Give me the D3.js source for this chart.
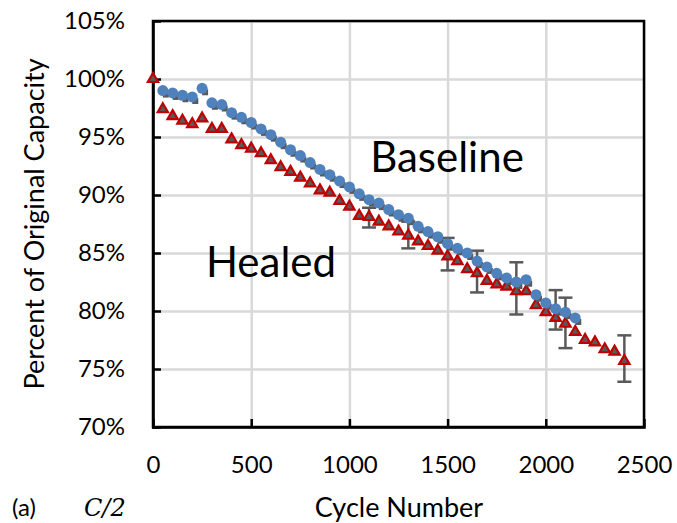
<!DOCTYPE html>
<html>
<head>
<meta charset="utf-8">
<script src="https://cdn.jsdelivr.net/npm/d3@7"></script>
<style>
  body { margin: 0; background: #fff; }
  svg { display: block; font-family: Lato, "Open Sans", sans-serif; }
</style>
</head>
<body>
<script>
// capacity fade, baseline vs healed cells

var baseCycles = [50, 100, 150, 200, 250, 300, 350, 400, 450, 500, 550, 600, 650, 700, 750, 800,
  850, 900, 950, 1000, 1050, 1100, 1150, 1200, 1250, 1300, 1350, 1400, 1450, 1500, 1550, 1600,
  1650, 1700, 1750, 1800, 1850, 1900, 1950, 2000, 2050, 2100, 2150];
var baseValues = [99.0, 98.8, 98.6, 98.45, 99.2, 97.95, 97.8, 97.1, 96.7, 96.25, 95.7, 95.2, 94.55, 93.9, 93.4, 92.8,
  92.2, 91.75, 91.2, 90.7, 90.1, 89.6, 89.3, 88.75, 88.3, 88.0, 87.3, 86.85, 86.4, 85.8, 85.4, 85.0,
  84.3, 83.8, 83.25, 82.85, 82.5, 82.7, 81.4, 80.7, 80.2, 79.9, 79.4];

var healCycles = [0, 50, 100, 150, 200, 250, 300, 350, 400, 450, 500, 550, 600, 650, 700, 750, 800,
  850, 900, 950, 1000, 1050, 1100, 1150, 1200, 1250, 1300, 1350, 1400, 1450, 1500, 1550, 1600,
  1650, 1700, 1750, 1800, 1850, 1900, 1950, 2000, 2050, 2100, 2150, 2200, 2250, 2300, 2350, 2400];
var healValues = [100.0, 97.4, 96.8, 96.4, 96.1, 96.6, 95.7, 95.7, 94.8, 94.3, 94.0, 93.6, 93.0, 92.4, 92.0, 91.5, 91.0,
  90.4, 90.2, 89.5, 89.0, 88.2, 88.1, 87.7, 87.3, 86.85, 86.5, 86.0, 85.6, 85.2, 84.7, 84.3, 83.6,
  83.25, 82.6, 82.3, 82.1, 81.7, 81.7, 80.5, 79.9, 79.4, 78.9, 78.2, 77.5, 77.3, 76.7, 76.5, 75.7];

// error bars (low / high ends)
var errCycles = [1100, 1300, 1500, 1650, 1850, 2050, 2100, 2400];
var errLow = [87.2, 85.4, 83.5, 81.6, 79.7, 78.4, 76.8, 73.9];
var errHigh = [88.9, 87.7, 86.3, 85.2, 84.2, 81.8, 81.15, 77.9];

var xTicks = [0, 500, 1000, 1500, 2000, 2500];
var yTicks = [70, 75, 80, 85, 90, 95, 100, 105];

var W = 677, H = 523;
var plot = {left: 153, right: 644, top: 21, bottom: 427};

var x = d3.scaleLinear().domain([0, 2500]).range([plot.left, plot.right]);
var y = d3.scaleLinear().domain([70, 105]).range([plot.bottom, plot.top]);

var svg = d3.select("body").append("svg")
  .attr("width", W)
  .attr("height", H);

// gridlines
svg.append("g")
  .attr("transform", "translate(0," + plot.bottom + ")")
  .call(d3.axisBottom(x).tickValues(xTicks).tickSize(-(plot.bottom - plot.top)).tickFormat(""))
  .call(function(g) { g.select(".domain").remove(); })
  .selectAll("line").attr("stroke", "#d9d9d9").attr("stroke-width", 2.5);

svg.append("g")
  .attr("transform", "translate(" + plot.left + ",0)")
  .call(d3.axisLeft(y).tickValues(yTicks).tickSize(-(plot.right - plot.left)).tickFormat(""))
  .call(function(g) { g.select(".domain").remove(); })
  .selectAll("line").attr("stroke", "#d9d9d9").attr("stroke-width", 2.5);

// frame
svg.append("rect")
  .attr("x", plot.left).attr("y", plot.top)
  .attr("width", plot.right - plot.left).attr("height", plot.bottom - plot.top)
  .attr("fill", "none").attr("stroke", "#000").attr("stroke-width", 2.5);

// axes with inward ticks
var xAxis = svg.append("g")
  .attr("transform", "translate(0," + plot.bottom + ")")
  .call(d3.axisBottom(x).tickValues(xTicks).tickSize(-8).tickPadding(33).tickFormat(d3.format("d")));
var yAxis = svg.append("g")
  .attr("transform", "translate(" + plot.left + ",0)")
  .call(d3.axisLeft(y).tickValues(yTicks).tickSize(-8).tickPadding(36)
    .tickFormat(function(d) { return d + "%"; }));

[xAxis, yAxis].forEach(function(g) {
  g.select(".domain").attr("stroke", "#000").attr("stroke-width", 2.5);
  g.selectAll(".tick line").attr("stroke", "#000").attr("stroke-width", 2.5);
  g.selectAll(".tick text")
    .attr("font-family", "Lato, sans-serif")
    .attr("font-size", "24px")
    .attr("fill", "#000");
});
xAxis.selectAll(".tick text").attr("dy", "0.55em");
yAxis.selectAll(".tick text").attr("dx", "8px");
xAxis.selectAll(".tick").filter(function(d) { return d === 0 || d === 2500; }).select("line").remove();
yAxis.selectAll(".tick").filter(function(d) { return d === 105 || d === 70; }).select("line").remove();

// error bars
var errs = errCycles.map(function(c, i) { return {c: c, lo: errLow[i], hi: errHigh[i]}; });
var eb = svg.append("g").attr("stroke", "#595959").attr("stroke-width", 2.5);
eb.selectAll(".v").data(errs).enter().append("line")
  .attr("x1", function(d) { return x(d.c); }).attr("x2", function(d) { return x(d.c); })
  .attr("y1", function(d) { return y(d.lo); }).attr("y2", function(d) { return y(d.hi); });
eb.selectAll(".lo").data(errs).enter().append("line")
  .attr("x1", function(d) { return x(d.c) - 7; }).attr("x2", function(d) { return x(d.c) + 7; })
  .attr("y1", function(d) { return y(d.lo); }).attr("y2", function(d) { return y(d.lo); });
eb.selectAll(".hi").data(errs).enter().append("line")
  .attr("x1", function(d) { return x(d.c) - 7; }).attr("x2", function(d) { return x(d.c) + 7; })
  .attr("y1", function(d) { return y(d.hi); }).attr("y2", function(d) { return y(d.hi); });

// healed: red triangles with grey core
var tri = d3.symbol().type(d3.symbolTriangle).size(46);
svg.append("g").selectAll("path")
  .data(healCycles.map(function(c, i) { return [c, healValues[i]]; }))
  .enter().append("path")
  .attr("d", tri)
  .attr("transform", function(d) { return "translate(" + x(d[0]) + "," + y(d[1]) + ")"; })
  .attr("fill", "#595959")
  .attr("stroke", "#c00000")
  .attr("stroke-width", 2.2)
  .attr("stroke-linejoin", "miter");

// baseline: grey marker under blue circles
var base = baseCycles.map(function(c, i) { return [c, baseValues[i]]; });
svg.append("g").selectAll("rect")
  .data(base).enter().append("rect")
  .attr("x", function(d) { return x(d[0]); })
  .attr("y", function(d) { return y(d[1]) + 1; })
  .attr("width", 6).attr("height", 6)
  .attr("fill", "#595959");
svg.append("g").selectAll("circle")
  .data(base).enter().append("circle")
  .attr("cx", function(d) { return x(d[0]); })
  .attr("cy", function(d) { return y(d[1]); })
  .attr("r", 5.5)
  .attr("fill", "#4f81bd");

// series labels
svg.append("text").attr("x", 447).attr("y", 172)
  .attr("text-anchor", "middle").attr("font-size", "42px").text("Baseline");
svg.append("text").attr("x", 271).attr("y", 277)
  .attr("text-anchor", "middle").attr("font-size", "42px").text("Healed");

// axis titles
svg.append("text")
  .attr("transform", "translate(44," + ((plot.top + plot.bottom) / 2) + ") rotate(-90)")
  .attr("text-anchor", "middle").attr("font-size", "27px").text("Percent of Original Capacity");
svg.append("text").attr("x", 399).attr("y", 517)
  .attr("text-anchor", "middle").attr("font-size", "27px").text("Cycle Number");

// panel tag
svg.append("text").attr("x", 12).attr("y", 516).attr("font-size", "24px").text("(a)");
svg.append("text").attr("x", 84).attr("y", 516)
  .attr("font-family", "'DejaVu Serif', serif").attr("font-style", "italic")
  .attr("font-size", "24px").text("C/2");
</script>
</body>
</html>
